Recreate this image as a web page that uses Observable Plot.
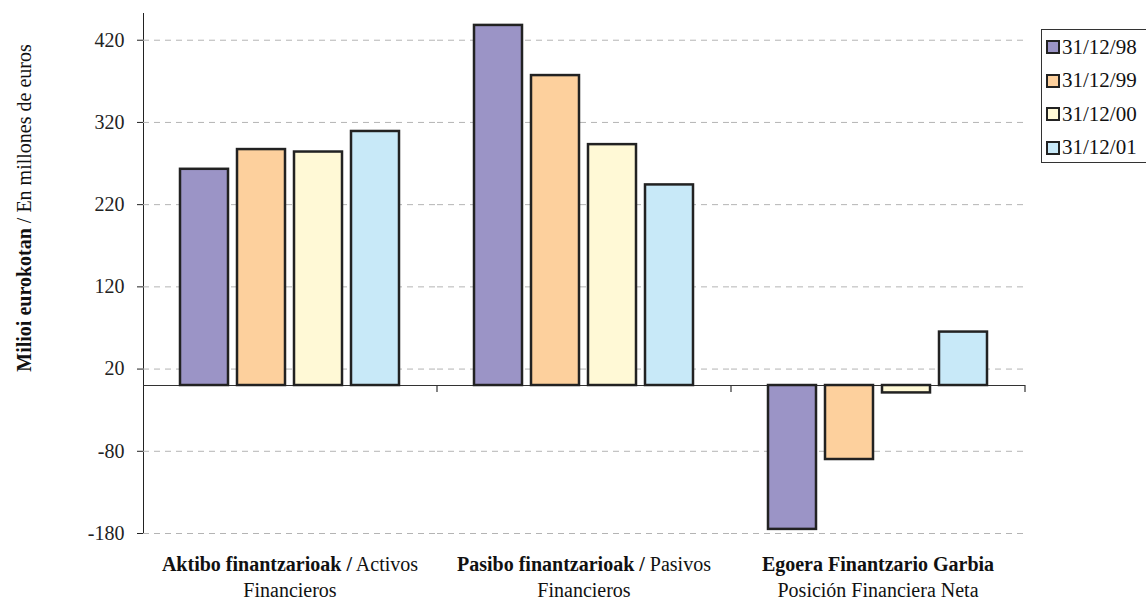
<!DOCTYPE html>
<html>
<head>
<meta charset="utf-8">
<script src="https://cdn.jsdelivr.net/npm/d3@7"></script>
<script src="https://cdn.jsdelivr.net/npm/@observablehq/plot@0.6"></script>
<style>
  body { margin: 0; background: #fff; }
  #wrap { position: relative; width: 1146px; height: 601px; font-family: "Liberation Serif", "Times New Roman", "DejaVu Serif", serif; }
  #legend { position: absolute; left: 1041px; top: 29px; width: 120px; height: 134px; border: 1px solid #333; box-sizing: border-box; background: #fff; }
  .li { position: absolute; left: 4px; height: 22px; display: flex; align-items: center; font-size: 21px; color: #111; }
  .sw { width: 10px; height: 10px; border: 2px solid #222; margin-right: 2px; }
</style>
</head>
<body>
<div id="wrap"></div>
<script>
const categories = ["Aktibo", "Pasibo", "Egoera"];
const series = ["31/12/98", "31/12/99", "31/12/00", "31/12/01"];
const activos = [263, 287, 284, 309];
const pasivos = [438, 377, 293, 244];
const neta = [-175, -90, -9, 65];
const colors = ["#9b94c6", "#fdd09d", "#fff9d6", "#c8e9f8"];
const yTicks = [-180, -80, 20, 120, 220, 320, 420];
const labelBold = ["Aktibo finantzarioak /", "Pasibo finantzarioak /", "Egoera Finantzario Garbia"];
const labelNormal = [" Activos", " Pasivos", ""];
const labelLine2 = ["Financieros", "Financieros", "Posición Financiera Neta"];
const yTitleBold = "Milioi eurokotan";
const yTitleNormal = " / En millones de euros";

const valuesByCat = [activos, pasivos, neta];
const data = [];
categories.forEach((c, i) => series.forEach((s, j) => data.push({cat: c, series: s, value: valuesByCat[i][j]})));

const font = '"Liberation Serif", "Times New Roman", "DejaVu Serif", serif';

const plot = Plot.plot({
  width: 1146,
  height: 601,
  marginLeft: 143,
  marginRight: 121,
  marginTop: 13,
  marginBottom: 68,
  style: {fontFamily: font, fontSize: "20px", color: "#222", background: "#fff"},
  fx: {domain: categories, padding: 0, axis: null, label: null},
  x: {domain: series, paddingInner: 0.155, paddingOuter: 0.612, axis: null},
  y: {domain: [-180, 452.5], ticks: yTicks, tickSize: 6, tickPadding: 13, tickFormat: d => String(d), label: null, line: true},
  color: {domain: series, range: colors},
  marks: [
    Plot.ruleY(yTicks, {stroke: "#b4b4b4", strokeWidth: 1, strokeDasharray: "6,5"}),
    Plot.ruleY([0], {stroke: "#333", strokeWidth: 1.2}),
    Plot.barY(data, {fx: "cat", x: "series", y: "value", fill: "series", stroke: "#222", strokeWidth: 2.5}),
  ]
});

const wrap = document.getElementById("wrap");
wrap.appendChild(plot);

const svg = d3.select(plot);
const fx = plot.scale("fx");
const y = plot.scale("y");
const y0 = y.apply(0);

// band boundary ticks on zero axis
categories.forEach(c => {
  const xr = fx.apply(c) + fx.bandwidth;
  svg.append("line").attr("x1", xr).attr("x2", xr).attr("y1", y0).attr("y2", y0 + 7)
    .attr("stroke", "#333").attr("stroke-width", 1.2);
});

// category labels
categories.forEach((c, i) => {
  const cx = fx.apply(c) + fx.bandwidth / 2;
  const t1 = svg.append("text").attr("x", cx).attr("y", 571).attr("text-anchor", "middle")
    .attr("font-family", font).attr("font-size", 20).attr("fill", "#111");
  t1.append("tspan").attr("font-weight", "bold").text(labelBold[i]);
  if (labelNormal[i]) t1.append("tspan").text(labelNormal[i]);
  svg.append("text").attr("x", cx).attr("y", 597).attr("text-anchor", "middle")
    .attr("font-family", font).attr("font-size", 20).attr("fill", "#111").text(labelLine2[i]);
});

// y title
const yt = svg.append("text").attr("transform", `translate(31,208) rotate(-90)`)
  .attr("text-anchor", "middle").attr("font-family", font).attr("font-size", 20).attr("fill", "#111");
yt.append("tspan").attr("font-weight", "bold").text(yTitleBold);
yt.append("tspan").text(yTitleNormal);

// legend
const leg = document.createElement("div");
leg.id = "legend";
series.forEach((s, i) => {
  const li = document.createElement("div");
  li.className = "li";
  li.style.top = (6 + i * 33.5) + "px";
  const sw = document.createElement("div");
  sw.className = "sw";
  sw.style.background = colors[i];
  li.appendChild(sw);
  li.appendChild(document.createTextNode(s));
  leg.appendChild(li);
});
wrap.appendChild(leg);
</script>
</body>
</html>
